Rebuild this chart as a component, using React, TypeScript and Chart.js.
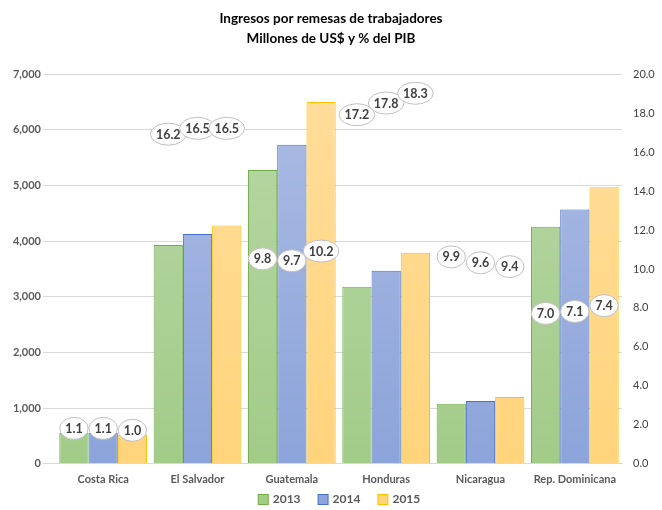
import React, { useEffect, useRef } from "react";
import { Chart, registerables } from "chart.js";

Chart.register(...registerables);

const categories = ["Costa Rica", "El Salvador", "Guatemala", "Honduras", "Nicaragua", "Rep. Dominicana"];
const years = ["2013", "2014", "2015"];
const usd2013 = [560, 3930, 5280, 3180, 1080, 4260];
const usd2014 = [560, 4130, 5730, 3470, 1130, 4570];
const usd2015 = [520, 4280, 6500, 3790, 1200, 4970];
const pib2013 = [1.1, 16.2, 9.8, 17.2, 9.9, 7.0];
const pib2014 = [1.1, 16.5, 9.7, 17.8, 9.6, 7.1];
const pib2015 = [1.0, 16.5, 10.2, 18.3, 9.4, 7.4];
const leftTicks = [0, 1000, 2000, 3000, 4000, 5000, 6000, 7000];
const rightTicks = [0, 2, 4, 6, 8, 10, 12, 14, 16, 18, 20];

const FONT = "Lato, 'Open Sans', sans-serif";
const TXT = "#595959";

const fills = [
  ["#b8d8a7", "#a2cb88"],
  ["#adbce4", "#8ca4da"],
  ["#ffdd9c", "#ffd47c"],
];
const borders = ["#70ad47", "#4472c4", "#ffc000"];

function gradientFor(idx: number) {
  return (ctx: any) => {
    const chart = ctx.chart;
    const area = chart.chartArea;
    if (!area) return fills[idx][1];
    const g = chart.ctx.createLinearGradient(0, area.top, 0, area.bottom);
    g.addColorStop(0, fills[idx][0]);
    g.addColorStop(1, fills[idx][1]);
    return g;
  };
}

const pctLabels = {
  id: "pctLabels",
  afterDatasetsDraw(chart: any) {
    const ctx = chart.ctx;
    const pcts = [pib2013, pib2014, pib2015];
    const y1 = chart.scales.y1;
    ctx.save();
    ctx.font = `bold 12.5px ${FONT}`;
    ctx.textAlign = "center";
    ctx.textBaseline = "middle";
    for (let i = 0; i < 3; i++) {
      const meta = chart.getDatasetMeta(i);
      meta.data.forEach((el: any, j: number) => {
        const v = pcts[i][j];
        const txt = v.toFixed(1);
        const x = el.x;
        const y = y1.getPixelForValue(v) - 14;
        const w = ctx.measureText(txt).width + 11;
        const h = 22;
        ctx.beginPath();
        ctx.ellipse(x, y, w / 2, h / 2, 0, 0, Math.PI * 2);
        ctx.fillStyle = "#ffffff";
        ctx.fill();
        ctx.lineWidth = 1;
        ctx.strokeStyle = "#bfbfbf";
        ctx.stroke();
        ctx.fillStyle = "#404040";
        ctx.fillText(txt, x, y + 0.5);
      });
    }
    ctx.restore();
  },
};

const customLegend = {
  id: "customLegend",
  afterDraw(chart: any) {
    const ctx = chart.ctx;
    const area = chart.chartArea;
    ctx.save();
    ctx.font = `bold 12px ${FONT}`;
    ctx.textBaseline = "middle";
    ctx.textAlign = "left";
    const box = 10;
    const gap = 5;
    const spacing = 17;
    const widths = years.map((y) => box + gap + ctx.measureText(y).width);
    const total = widths.reduce((a, b) => a + b, 0) + spacing * (years.length - 1);
    let x = (area.left + area.right) / 2 - total / 2;
    const cy = 499;
    years.forEach((y, i) => {
      ctx.fillStyle = fills[i][1];
      ctx.fillRect(x + 0.5, cy - box / 2 + 0.5, box, box);
      ctx.strokeStyle = borders[i];
      ctx.lineWidth = 1;
      ctx.strokeRect(x + 0.5, cy - box / 2 + 0.5, box, box);
      ctx.fillStyle = TXT;
      ctx.fillText(y, x + box + gap, cy + 0.5);
      x += widths[i] + spacing;
    });
    ctx.restore();
  },
};

export default function App() {
  const ref = useRef<HTMLCanvasElement>(null);
  useEffect(() => {
    document.body.style.margin = "0";
    const usd = [usd2013, usd2014, usd2015];
    const chart = new Chart(ref.current!, {
      type: "bar",
      data: {
        labels: categories,
        datasets: years.map((y, i) => ({
          label: y,
          data: usd[i],
          backgroundColor: gradientFor(i),
          borderColor: borders[i],
          borderWidth: 1,
          categoryPercentage: 0.93,
          barPercentage: 1,
          yAxisID: "y",
        })),
      },
      options: {
        animation: false,
        responsive: false,
        devicePixelRatio: 1,
        layout: { padding: { left: 0, right: 0, top: 0, bottom: 15 } },
        plugins: {
          title: {
            display: true,
            text: ["Ingresos por remesas de trabajadores", "Millones de US$ y % del PIB"],
            color: "#000000",
            font: { family: FONT, size: 13.5, weight: "bold", lineHeight: 1.45 },
            padding: { top: 9, bottom: 26 },
          },
          legend: { display: false },
          tooltip: { enabled: false },
        },
        scales: {
          x: {
            grid: { display: false, drawTicks: false },
            border: { display: true, color: "#d9d9d9" },
            ticks: { color: TXT, font: { family: FONT, size: 11, weight: "bold" }, padding: 9 },
          },
          y: {
            position: "left",
            min: 0,
            max: 7000,
            afterBuildTicks: (s: any) => {
              s.ticks = leftTicks.map((v) => ({ value: v }));
            },
            afterFit: (s: any) => {
              s.width = 56;
            },
            grid: { color: "#d9d9d9", tickLength: 13, lineWidth: 1 },
            border: { display: false },
            ticks: {
              color: TXT,
              font: { family: FONT, size: 11, weight: "bold" },
              padding: 2,
              callback: (v: any) => Number(v).toLocaleString("en-US"),
            },
          },
          y1: {
            position: "right",
            min: 0,
            max: 20,
            afterBuildTicks: (s: any) => {
              s.ticks = rightTicks.map((v) => ({ value: v }));
            },
            afterFit: (s: any) => {
              s.width = 40;
            },
            grid: { display: false, drawTicks: false },
            border: { display: false },
            ticks: {
              color: "#404040",
              font: { family: FONT, size: 11 },
              padding: 11,
              callback: (v: any) => Number(v).toFixed(1),
            },
          },
        },
      } as any,
      plugins: [pctLabels, customLegend],
    });
    return () => chart.destroy();
  }, []);
  return <canvas ref={ref} width={662} height={510} style={{ display: "block" }} />;
}
